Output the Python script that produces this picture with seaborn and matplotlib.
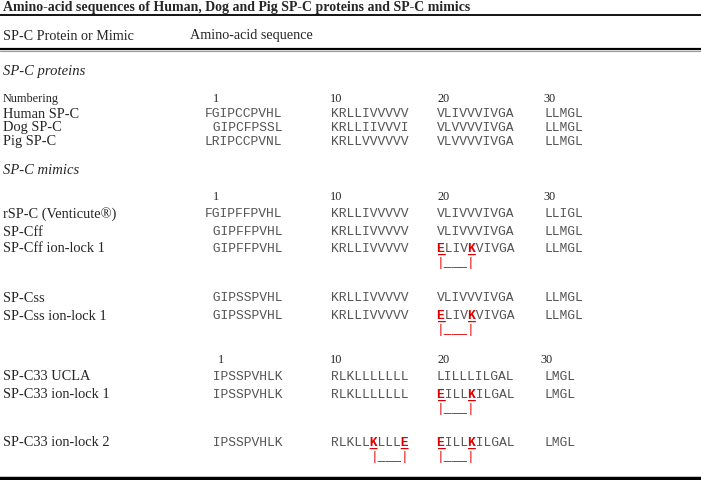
import matplotlib
matplotlib.use("Agg")
import matplotlib.pyplot as plt
import seaborn as sns

sns.set_theme(style="white")
plt.rcParams["font.family"] = ["Liberation Serif", "DejaVu Serif"]

TITLE = "Amino-acid sequences of Human, Dog and Pig SP-C proteins and SP-C mimics"
HEADERS = ["SP-C Protein or Mimic", "Amino-acid sequence"]
SECTIONS = ["SP-C proteins", "SP-C mimics"]
NUMBERS = ["1", "10", "20", "30"]

# 行名と配列（4ブロックに分割）
labels = [
    "Human SP-C", "Dog SP-C", "Pig SP-C",
    "rSP-C (Venticute®)", "SP-Cff", "SP-Cff ion-lock 1",
    "SP-Css", "SP-Css ion-lock 1",
    "SP-C33 UCLA", "SP-C33 ion-lock 1", "SP-C33 ion-lock 2",
]
seg1 = ["FGIPCCPVHL", " GIPCFPSSL", "LRIPCCPVNL",
        "FGIPFFPVHL", " GIPFFPVHL", " GIPFFPVHL",
        " GIPSSPVHL", " GIPSSPVHL",
        " IPSSPVHLK", " IPSSPVHLK", " IPSSPVHLK"]
seg2 = ["KRLLIVVVVV", "KRLLIIVVVI", "KRLLVVVVVV",
        "KRLLIVVVVV", "KRLLIVVVVV", "KRLLIVVVVV",
        "KRLLIVVVVV", "KRLLIVVVVV",
        "RLKLLLLLLL", "RLKLLLLLLL", "RLKLLKLLLE"]
seg3 = ["VLIVVVIVGA", "VLVVVVIVGA", "VLVVVVIVGA",
        "VLIVVVIVGA", "VLIVVVIVGA", "ELIVKVIVGA",
        "VLIVVVIVGA", "ELIVKVIVGA",
        "LILLLILGAL", "EILLKILGAL", "EILLKILGAL"]
seg4 = ["LLMGL", "LLMGL", "LLMGL",
        "LLIGL", "LLMGL", "LLMGL",
        "LLMGL", "LLMGL",
        "LMGL", "LMGL", "LMGL"]
# ion-lock: (行, ブロック) -> 強調する残基の位置
ion_locks = {
    (5, 2): [0, 4],
    (7, 2): [0, 4],
    (9, 2): [0, 4],
    (10, 1): [5, 9],
    (10, 2): [0, 4],
}

# レイアウト（ピクセル）
row_y = [114, 128, 142, 214, 232, 249, 298, 316, 377, 395, 443]
seg_x = [205, 331, 437, 544]
num_rows = [(99, [213, 330, 437, 543]), (197, [213, 330, 437, 543]), (360, [218, 330, 437, 540])]
SEQ_FONT = "Liberation Mono"
SEQ_SIZE = 9.4
CHAR_W = 0.6 * SEQ_SIZE * 100 / 72
GREY = "#555555"
RED = "#e00000"

fig = plt.figure(figsize=(7.01, 4.80), dpi=100)
ax = fig.add_axes([0, 0, 1, 1])
ax.set_xlim(0, 701)
ax.set_ylim(480, 0)
ax.axis("off")

ax.text(3, 8, TITLE, fontsize=10, fontweight="bold", va="center")
ax.axhline(15, color="black", lw=1.3)
ax.text(3, 36, HEADERS[0], fontsize=10.2, va="center")
ax.text(190, 36, HEADERS[1], fontsize=10.2, va="center")
ax.axhline(49, color="black", lw=1.6)
ax.axhline(50.5, color="#999999", lw=0.8)

ax.text(3, 72, SECTIONS[0], fontsize=10.5, style="italic", va="center")
ax.text(3, 170, SECTIONS[1], fontsize=10.5, style="italic", va="center")
ax.text(3, 99, "Numbering", fontsize=8.8, va="center")

for y, xs in num_rows:
    for x, n in zip(xs, NUMBERS):
        ax.text(x, y, n, fontsize=8.8, va="center")

for i, lab in enumerate(labels):
    y = row_y[i]
    ax.text(3, y, lab, fontsize=10.4, va="center")
    for j, seg in enumerate([seg1[i], seg2[i], seg3[i], seg4[i]]):
        x = seg_x[j]
        hl = ion_locks.get((i, j), [])
        grey = "".join(" " if k in hl else c for k, c in enumerate(seg))
        ax.text(x, y, grey, family=SEQ_FONT, fontsize=SEQ_SIZE, color=GREY, va="center")
        if not hl:
            continue
        red = "".join(c if k in hl else " " for k, c in enumerate(seg))
        under = "".join("_" if k in hl else " " for k, c in enumerate(seg))
        ax.text(x, y, red, family=SEQ_FONT, fontsize=SEQ_SIZE, color=RED,
                fontweight="bold", va="center")
        ax.text(x, y + 1.5, under, family=SEQ_FONT, fontsize=SEQ_SIZE, color=RED,
                fontweight="bold", va="center")
        bracket = "|" + "_" * (hl[-1] - hl[0] - 1) + "|"
        ax.text(x + hl[0] * CHAR_W, y + 14, bracket, family=SEQ_FONT,
                fontsize=SEQ_SIZE, color=RED, va="center")

ax.axhline(478, color="black", lw=2.5)

fig.savefig("out.png", dpi=100)
